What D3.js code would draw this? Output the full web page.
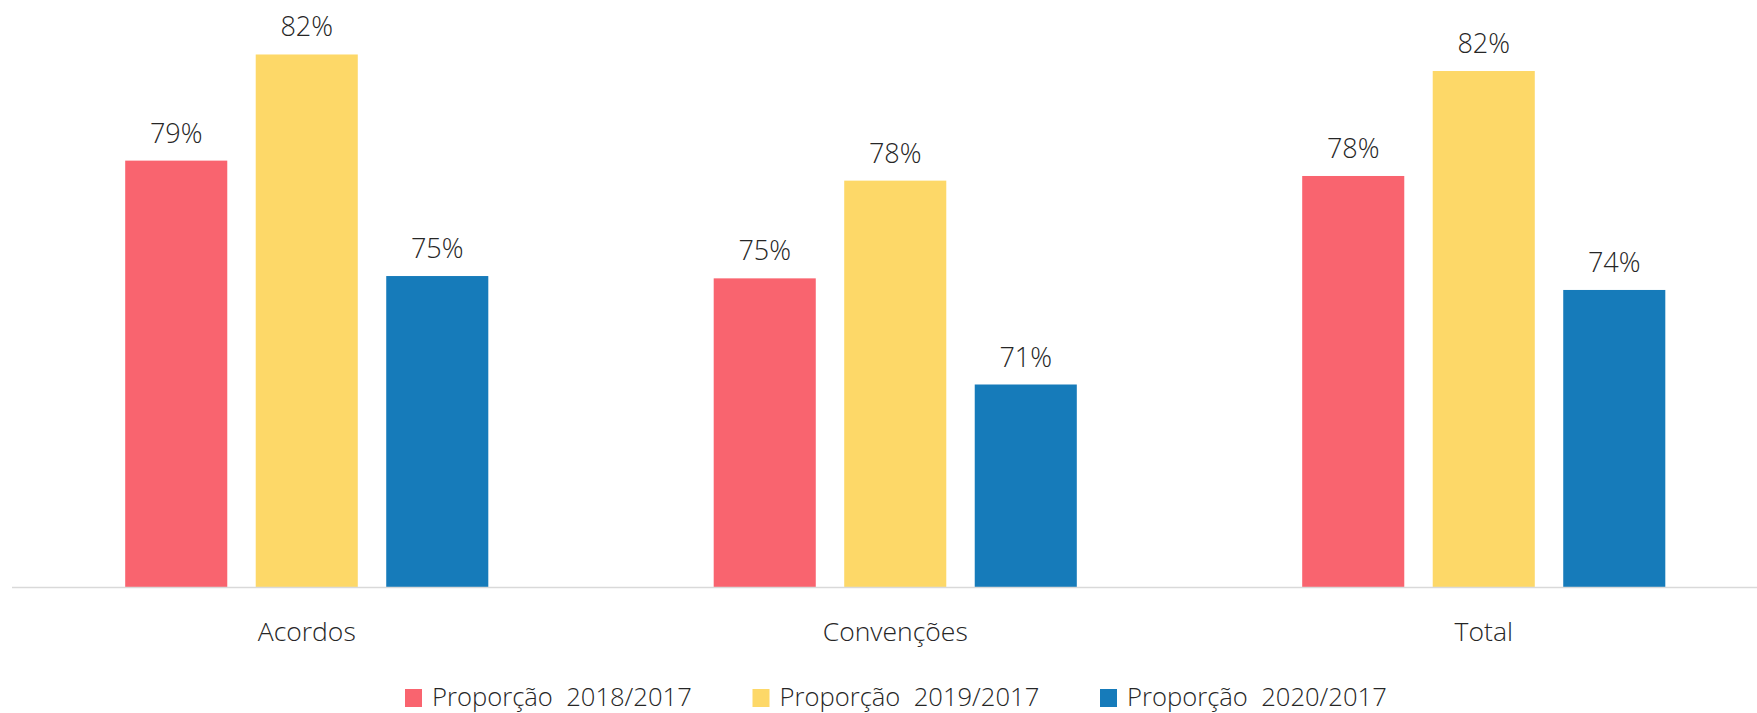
<!DOCTYPE html>
<html>
<head>
<meta charset="utf-8">
<script src="https://cdn.jsdelivr.net/npm/d3@7"></script>
<style>
  body { margin: 0; background: #fff; }
  text { font-family: "Open Sans", "Noto Sans", sans-serif; font-weight: 300; fill: #262626; }
</style>
</head>
<body>
<div id="chart"></div>
<script>
const width = 1757;
const height = 713;

// --- données ---
const categories = ["Acordos", "Convenções", "Total"];
const series = ["Proporção  2018/2017", "Proporção  2019/2017", "Proporção  2020/2017"];
const colors = ["#F9646F", "#FDD868", "#167BBA"];
const acordos = [0.7872, 0.8238, 0.7474];
const convencoes = [0.7466, 0.7803, 0.7100];
const total = [0.7819, 0.8181, 0.7426];

const values = [acordos, convencoes, total];
const rows = categories.map((c, i) => ({ cat: c, vals: values[i] }));

const svg = d3.select("#chart")
    .append("svg")
    .attr("width", width)
    .attr("height", height);

// échelles
const x0 = d3.scaleBand()
    .domain(categories)
    .range([12.5, 1778])
    .paddingInner(0.383)
    .paddingOuter(0.1915);

const x1 = d3.scaleBand()
    .domain(series)
    .range([0, x0.bandwidth()])
    .paddingInner(0.218);

const y = d3.scaleLinear()
    .domain([0.64, 0.84])
    .range([587.5, 7.5]);

const color = d3.scaleOrdinal().domain(series).range(colors);
const fmt = d3.format(".0%");

// barres
const groups = svg.append("g")
  .selectAll("g")
  .data(rows)
  .join("g")
    .attr("transform", d => `translate(${x0(d.cat)},0)`);

groups.selectAll("rect")
  .data(d => d.vals.map((v, j) => ({ s: series[j], v })))
  .join("rect")
    .attr("x", d => x1(d.s))
    .attr("y", d => y(d.v))
    .attr("width", x1.bandwidth())
    .attr("height", d => y(0.64) - y(d.v))
    .attr("fill", d => color(d.s));

groups.selectAll("text")
  .data(d => d.vals.map((v, j) => ({ s: series[j], v })))
  .join("text")
    .attr("x", d => x1(d.s) + x1.bandwidth() / 2)
    .attr("y", d => y(d.v) - 18)
    .attr("text-anchor", "middle")
    .attr("font-size", 27)
    .text(d => fmt(d.v));

// axe x
svg.append("line")
    .attr("x1", 12).attr("x2", width)
    .attr("y1", y(0.64)).attr("y2", y(0.64))
    .attr("stroke", "#d9d9d9")
    .attr("stroke-width", 1.5);

svg.append("g")
  .selectAll("text")
  .data(categories)
  .join("text")
    .attr("x", d => x0(d) + x0.bandwidth() / 2)
    .attr("y", 641)
    .attr("text-anchor", "middle")
    .attr("font-size", 26.5)
    .text(d => d);

// légende
const legend = svg.append("g")
  .selectAll("g")
  .data(series)
  .join("g")
    .attr("transform", (d, i) => `translate(${405 + i * 347.5},689)`);

legend.append("rect")
    .attr("width", 17)
    .attr("height", 18)
    .attr("fill", d => color(d));

legend.append("text")
    .attr("x", 27)
    .attr("y", 17)
    .attr("font-size", 25.6)
    .style("white-space", "pre")
    .text(d => d);
</script>
</body>
</html>
